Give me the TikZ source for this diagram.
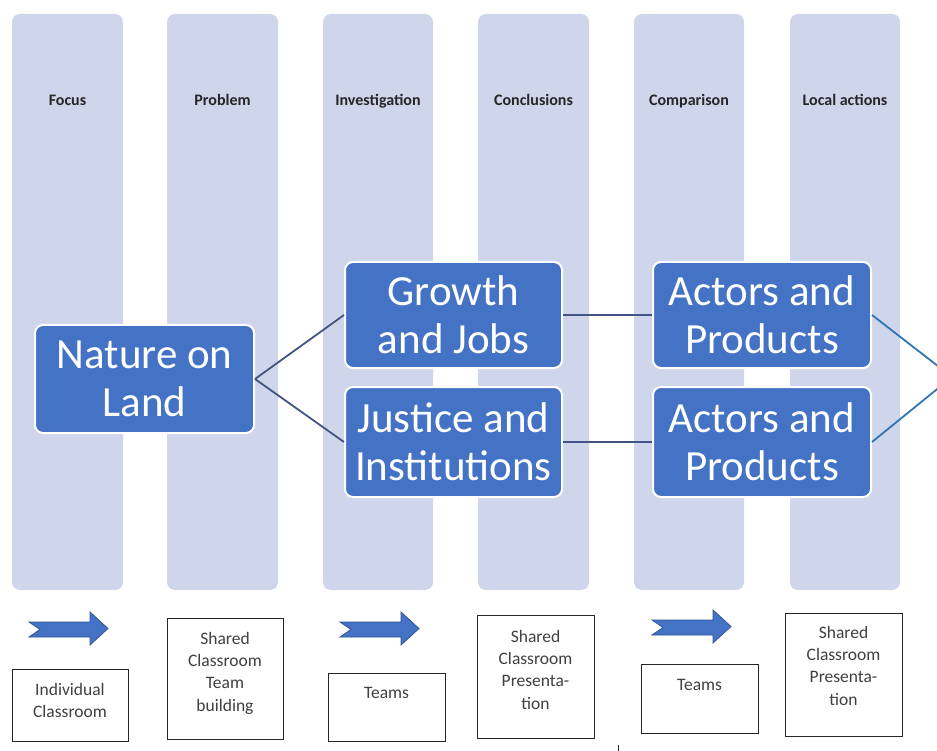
\documentclass[tikz,border=0pt]{standalone}
\usepackage{fontspec}
\setmainfont{Carlito}
\definecolor{barfill}{RGB}{207,213,234}
\definecolor{boxblue}{RGB}{68,114,196}
\definecolor{arrowedge}{RGB}{47,85,151}
\definecolor{linkdark}{RGB}{68,84,130}
\definecolor{linklight}{RGB}{46,117,182}
\definecolor{labeltext}{RGB}{38,38,38}
\definecolor{smalltext}{RGB}{64,64,64}
\begin{document}
\begin{tikzpicture}[x=1pt,y=-1pt,
  bar/.style={fill=barfill, draw=none, rounded corners=8pt},
  barlabel/.style={font=\fontsize{16}{19}\selectfont\bfseries, text=labeltext, inner sep=0pt, anchor=base},
  mainbox/.style={fill=boxblue, draw=white, line width=2pt, rounded corners=8pt,
     text=white, align=center, font=\fontsize{43}{48}\selectfont, inner sep=0pt},
  infobox/.style={draw=labeltext, line width=1pt, fill=white, inner sep=0pt},
  infotext/.style={font=\fontsize{17.5}{22.3}\selectfont, text=smalltext, align=center, inner sep=0pt, anchor=north},
  darklink/.style={draw=linkdark, line width=1.8pt},
  lightlink/.style={draw=linklight, line width=1.8pt},
  blockarrow/.pic={
    \path[fill=boxblue, draw=arrowedge, line width=0.8pt]
      (0,10) -- (61,10) -- (61,0) -- (79,16.5) -- (61,33) -- (61,25) -- (0,25) -- (11,17.5) -- cycle;
  }
]
\useasboundingbox (0,0) rectangle (937,751);
\begin{scope}
\clip (0,0) rectangle (937,751);
% bars
\foreach \xa/\xb/\lab/\nm in {12/123/Focus/b1, 167/278/Problem/b2, 323/433/Investigation/b3,
    478/589/Conclusions/b4, 634/744/Comparison/b5, 790/900/Local actions/b6}{
  \path[bar] (\xa,14) rectangle (\xb,590);
  \node[barlabel] (\nm) at ({(\xa+\xb)/2},105.5) {\lab};
}
% main boxes
\node[mainbox, minimum width=219pt, minimum height=108pt] (nature) at (144.5,379) {Nature on\\Land};
\node[mainbox, minimum width=217pt, minimum height=106pt] (growth) at (453.5,315) {Growth\\and Jobs};
\node[mainbox, minimum width=217pt, minimum height=110pt] (justice) at (453.5,442) {Justice and\\Institutions};
\node[mainbox, minimum width=218pt, minimum height=106pt] (actorsA) at (762,315) {Actors and\\Products};
\node[mainbox, minimum width=218pt, minimum height=110pt] (actorsB) at (762,442) {Actors and\\Products};
\coordinate (meet) at (952,377);
% connectors
\draw[darklink] (nature.east) -- (growth.west);
\draw[darklink] (nature.east) -- (justice.west);
\draw[darklink] (growth.east) -- (actorsA.west);
\draw[darklink] (justice.east) -- (actorsB.west);
\draw[lightlink] (actorsA.east) -- (meet);
\draw[lightlink] (actorsB.east) -- (meet);
% block arrows
\pic at (29,612) {blockarrow};
\pic at (340,612) {blockarrow};
\pic at (652,610) {blockarrow};
% info boxes
\node[infobox, minimum width=116pt, minimum height=72pt] (i1) at (70,705) {};
\node[infotext] (t1) at (70,683) {Individual\\Classroom};
\node[infobox, minimum width=116pt, minimum height=121pt] (i2) at (225,678.5) {};
\node[infotext] (t2) at (225,632) {Shared\\Classroom\\Team\\building};
\node[infobox, minimum width=117pt, minimum height=68pt] (i3) at (386.5,707) {};
\node[infotext] (t3) at (386.5,687) {Teams};
\node[infobox, minimum width=117pt, minimum height=123pt] (i4) at (535.5,676.5) {};
\node[infotext] (t4) at (535.5,630) {Shared\\Classroom\\Presenta-\\tion};
\node[infobox, minimum width=117pt, minimum height=69pt] (i5) at (699.5,698.5) {};
\node[infotext] (t5) at (699.5,679) {Teams};
\node[infobox, minimum width=117pt, minimum height=123pt] (i6) at (843.5,674.5) {};
\node[infotext] (t6) at (843.5,626) {Shared\\Classroom\\Presenta-\\tion};
% small tick
\coordinate (tickA) at (618,745);
\coordinate (tickB) at (618,752);
\draw[labeltext, line width=1pt] (tickA) -- (tickB);
\end{scope}
\end{tikzpicture}
\end{document}
